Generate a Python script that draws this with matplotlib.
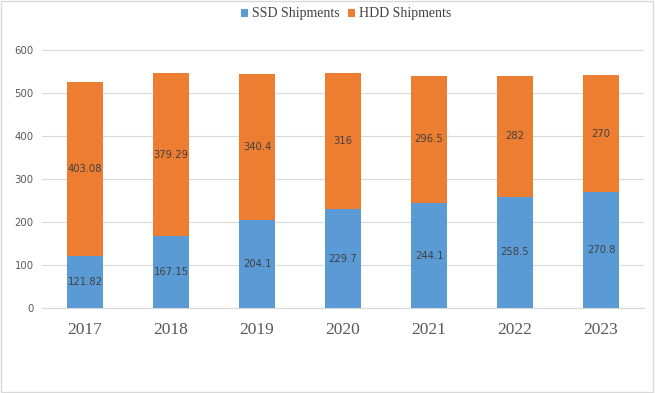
import matplotlib
matplotlib.use("Agg")
import matplotlib.pyplot as plt
from matplotlib.patches import Rectangle
import numpy as np

years = ["2017", "2018", "2019", "2020", "2021", "2022", "2023"]
ssd = [121.82, 167.15, 204.1, 229.7, 244.1, 258.5, 270.8]
hdd = [403.08, 379.29, 340.4, 316, 296.5, 282, 270]
ssd_labels = ["121.82", "167.15", "204.1", "229.7", "244.1", "258.5", "270.8"]
hdd_labels = ["403.08", "379.29", "340.4", "316", "296.5", "282", "270"]

blue = "#5B9BD5"
orange = "#ED7D31"

fig = plt.figure(figsize=(6.55, 3.93), dpi=100)
ax = fig.add_axes([42/655, 1-308/393, (644-42)/655, (308-50)/393])

x = np.arange(len(years))
w = 0.41
b1 = ax.bar(x, ssd, w, color=blue, label="SSD Shipments", zorder=3)
b2 = ax.bar(x, hdd, w, bottom=ssd, color=orange, label="HDD Shipments", zorder=3)

for i in range(len(years)):
    ax.text(x[i], ssd[i]/2, ssd_labels[i], ha="center", va="center",
            fontsize=7.2, color="#404040", zorder=4)
    ax.text(x[i], ssd[i] + hdd[i]/2, hdd_labels[i], ha="center", va="center",
            fontsize=7.2, color="#404040", zorder=4)

ax.set_xlim(-0.5, len(years)-0.5)
ax.set_ylim(0, 600)
ax.set_yticks(range(0, 601, 100))
ax.set_xticks(x)
ax.set_xticklabels(years, fontfamily="Liberation Serif", fontsize=12.5, color="#595959")
ax.tick_params(axis="y", labelsize=7.3, colors="#595959", length=0, pad=6)
ax.tick_params(axis="x", length=0, pad=10)
ax.grid(axis="y", color="#D9D9D9", linewidth=0.8, zorder=0)
for s in ["top", "right", "left"]:
    ax.spines[s].set_visible(False)
ax.spines["bottom"].set_color("#D9D9D9")

leg = fig.legend(handles=[b1, b2], loc="center", bbox_to_anchor=(346/655, 1-14/393),
                 ncol=2, frameon=False, prop={"family": "Liberation Serif", "size": 10},
                 handlelength=0.5, handleheight=0.5, handletextpad=0.3, columnspacing=0.6)
for t in leg.get_texts():
    t.set_color("#404040")

fig.patches.append(Rectangle((0.002, 0.003), 0.995, 0.994, transform=fig.transFigure,
                             fill=False, edgecolor="#D9D9D9", linewidth=1))

fig.savefig("out.png", dpi=100)
